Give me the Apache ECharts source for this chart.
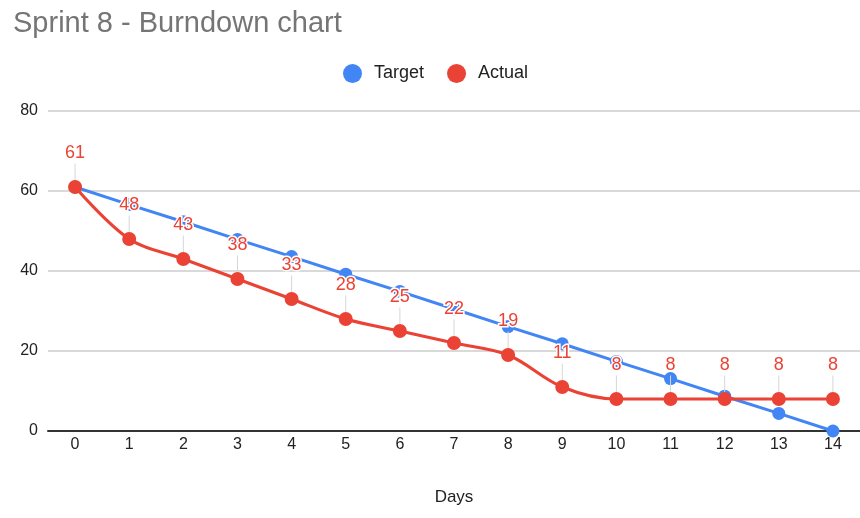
<!DOCTYPE html>
<html>
<head>
<meta charset="utf-8">
<script src="https://cdn.jsdelivr.net/npm/echarts@6/dist/echarts.min.js"></script>
<style>
  html, body { margin: 0; padding: 0; background: #fff; }
  #chart { width: 860px; height: 518px; }
</style>
</head>
<body>
<div id="chart"></div>
<script>
const days = ['0', '1', '2', '3', '4', '5', '6', '7', '8', '9', '10', '11', '12', '13', '14']
const target = [61, 56.6, 52.3, 47.9, 43.6, 39.2, 34.9, 30.5, 26.1, 21.8, 17.4, 13.1, 8.7, 4.4, 0]
const actual = [61, 48, 43, 38, 33, 28, 25, 22, 19, 11, 8, 8, 8, 8, 8]

const font = '"Liberation Sans", Arial, sans-serif'
const chart = echarts.init(document.getElementById('chart'))

chart.setOption({
  animation: false,
  title: {
    text: 'Sprint 8 - Burndown chart',
    left: 8,
    top: 4,
    textStyle: { color: '#757575', fontSize: 29, fontWeight: 'normal', fontFamily: font },
  },
  legend: {
    top: 59,
    left: 338,
    icon: 'circle',
    itemWidth: 19,
    itemHeight: 19,
    itemGap: 23,
    textStyle: { color: '#222', fontSize: 18, fontFamily: font, padding: [0, 0, 0, 7] },
    data: ['Target', 'Actual'],
  },
  grid: { left: 48, right: 0, top: 111, bottom: 87, containLabel: false },
  xAxis: {
    type: 'category',
    data: days,
    name: 'Days',
    nameLocation: 'middle',
    nameGap: 58,
    nameTextStyle: { color: '#222', fontSize: 17, fontFamily: font },
    axisLine: { lineStyle: { color: '#333', width: 2 } },
    axisTick: { show: false },
    axisLabel: { color: '#222', fontSize: 16, fontFamily: font, margin: 6 },
  },
  yAxis: {
    type: 'value',
    min: 0,
    max: 80,
    interval: 20,
    axisLabel: { color: '#222', fontSize: 16, fontFamily: font, margin: 10 },
    splitLine: { lineStyle: { color: '#d9d9d9', width: 2 } },
  },
  series: [
    {
      name: 'Target',
      type: 'line',
      data: target,
      symbol: 'circle',
      symbolSize: 13,
      itemStyle: { color: '#4285f4' },
      lineStyle: { color: '#4285f4', width: 3 },
      z: 2,
    },
    {
      name: 'Actual',
      type: 'line',
      data: actual,
      smooth: 0.35,
      symbol: 'circle',
      symbolSize: 14,
      itemStyle: { color: '#ea4335' },
      lineStyle: { color: '#ea4335', width: 3 },
      z: 3,
      label: {
        show: true,
        position: 'top',
        color: '#ea4335',
        fontSize: 18,
        fontFamily: font,
        textBorderColor: '#fff',
        textBorderWidth: 3,
      },
      labelLayout: { dy: -13 },
      labelLine: { show: true, lineStyle: { color: '#d6d6d6', width: 1 } },
    },
  ],
})
</script>
</body>
</html>
